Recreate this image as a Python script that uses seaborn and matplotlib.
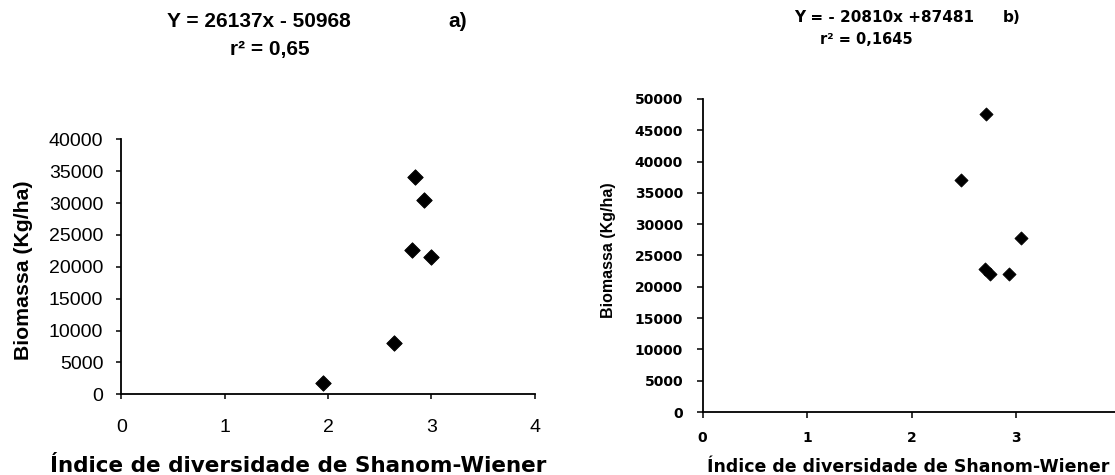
import matplotlib
matplotlib.use("Agg")
import matplotlib.pyplot as plt
import seaborn as sns
import pandas as pd

# ---- data ----
a_shannon = [1.95, 2.64, 2.81, 2.84, 2.93, 3.00]
a_biomass = [1700, 8000, 22700, 34100, 30500, 21600]
b_shannon = [2.47, 2.71, 2.70, 2.75, 2.93, 3.05]
b_biomass = [37100, 47600, 22800, 22000, 22000, 27800]

a_xticks = [0, 1, 2, 3, 4]
a_yticks = [0, 5000, 10000, 15000, 20000, 25000, 30000, 35000, 40000]
b_xticks = [0, 1, 2, 3]
b_yticks = [0, 5000, 10000, 15000, 20000, 25000, 30000, 35000, 40000, 45000, 50000]

a_title1 = "Y = 26137x - 50968"
a_title2 = "r\u00b2 = 0,65"
b_title1 = "Y = - 20810x +87481"
b_title2 = "r\u00b2 = 0,1645"
xlabel = "\u00cdndice de diversidade de Shanom-Wiener"
ylabel = "Biomassa (Kg/ha)"

sns.set_style("ticks")
plt.rcParams["font.family"] = ["Liberation Sans", "DejaVu Sans"]
plt.rcParams["text.color"] = "black"
plt.rcParams["axes.labelcolor"] = "black"
plt.rcParams["xtick.color"] = "black"
plt.rcParams["ytick.color"] = "black"
plt.rcParams["axes.edgecolor"] = "black"

W, H = 1115, 475
fig = plt.figure(figsize=(W / 100, H / 100), dpi=100)
fig.patch.set_facecolor("white")


def px_axes(x0, x1, ybot, ytop):
    return [x0 / W, 1 - ybot / H, (x1 - x0) / W, (ybot - ytop) / H]


def ftext(x, y, s, **kw):
    fig.text(x / W, 1 - y / H, s, ha="center", va="center", color="black", **kw)


df_a = pd.DataFrame({"Shannon": a_shannon, "Biomassa": a_biomass})
df_b = pd.DataFrame({"Shannon": b_shannon, "Biomassa": b_biomass})

# ---------------- panel a ----------------
ax1 = fig.add_axes(px_axes(121.4, 534.6, 394.3, 139.3))
sns.scatterplot(data=df_a, x="Shannon", y="Biomassa", marker="D", color="black",
                edgecolor="black", s=62, ax=ax1, clip_on=False, zorder=5)
ax1.set_xlim(0, 4)
ax1.set_ylim(0, 40000)
ax1.set_xticks(a_xticks)
ax1.set_yticks(a_yticks)
ax1.set_xticklabels([str(t) for t in a_xticks])
ax1.set_yticklabels([str(t) for t in a_yticks])
ax1.tick_params(axis="both", direction="out", length=3.5, width=1.1, color="black",
                labelsize=14, labelcolor="black")
ax1.tick_params(axis="x", pad=14)
ax1.tick_params(axis="y", pad=9.5)
for lbl in ax1.get_xticklabels() + ax1.get_yticklabels():
    lbl.set_fontfamily(["Liberation Sans", "DejaVu Sans"])
ax1.set_xlabel(xlabel, fontsize=15.5, fontweight="bold",
               family=["DejaVu Sans"], va="center", color="black")
ax1.xaxis.set_label_coords((298 - 121.4) / 413.2, (394.3 - 466) / 255)
ax1.set_ylabel(ylabel, fontsize=15.3, fontweight="bold",
               family=["Liberation Sans", "DejaVu Sans"], va="center", color="black")
ax1.yaxis.set_label_coords((24 - 121.4) / 413.2, (394.3 - 270) / 255)
sns.despine(ax=ax1)
for sp in ("left", "bottom"):
    ax1.spines[sp].set_linewidth(1.3)
    ax1.spines[sp].set_color("black")

ftext(258.5, 21.5, a_title1, fontsize=15, fontweight="bold",
      family=["Liberation Sans", "DejaVu Sans"])
ftext(458, 21.5, "a)", fontsize=15, fontweight="bold",
      family=["Liberation Sans", "DejaVu Sans"])
ftext(270, 50, a_title2, fontsize=15, fontweight="bold",
      family=["Liberation Sans", "DejaVu Sans"])

# ---------------- panel b ----------------
ax2 = fig.add_axes(px_axes(702.5, 1120.5, 412, 99))
sns.scatterplot(data=df_b, x="Shannon", y="Biomassa", marker="D", color="black",
                edgecolor="black", s=45, ax=ax2, clip_on=False, zorder=5)
ax2.set_xlim(0, 4)
ax2.set_ylim(0, 50000)
ax2.set_xticks(b_xticks)
ax2.set_yticks(b_yticks)
ax2.set_xticklabels([str(t) for t in b_xticks])
ax2.set_yticklabels([str(t) for t in b_yticks])
ax2.tick_params(axis="both", direction="out", length=4, width=1.1, color="black",
                labelsize=10, labelcolor="black")
ax2.tick_params(axis="x", pad=10)
ax2.tick_params(axis="y", pad=10)
for lbl in ax2.get_xticklabels() + ax2.get_yticklabels():
    lbl.set_fontfamily(["DejaVu Sans"])
    lbl.set_fontweight("bold")
ax2.set_xlabel(xlabel, fontsize=12.5, fontweight="bold",
               family=["DejaVu Sans"], va="center", color="black")
ax2.xaxis.set_label_coords((908 - 702.5) / 418, (412 - 467) / 313)
ax2.set_ylabel(ylabel, fontsize=11.5, fontweight="bold",
               family=["Liberation Sans", "DejaVu Sans"], va="center", color="black")
ax2.yaxis.set_label_coords((608 - 702.5) / 418, (412 - 250.5) / 313)
sns.despine(ax=ax2)
for sp in ("left", "bottom"):
    ax2.spines[sp].set_linewidth(1.3)
    ax2.spines[sp].set_color("black")

ftext(884, 17.5, b_title1, fontsize=11, fontweight="bold", family=["DejaVu Sans"])
ftext(1012, 17.5, "b)", fontsize=11, fontweight="bold", family=["DejaVu Sans"])
ftext(866, 39, b_title2, fontsize=10.5, fontweight="bold", family=["DejaVu Sans"])

fig.savefig("out.png", dpi=100, facecolor="white")
